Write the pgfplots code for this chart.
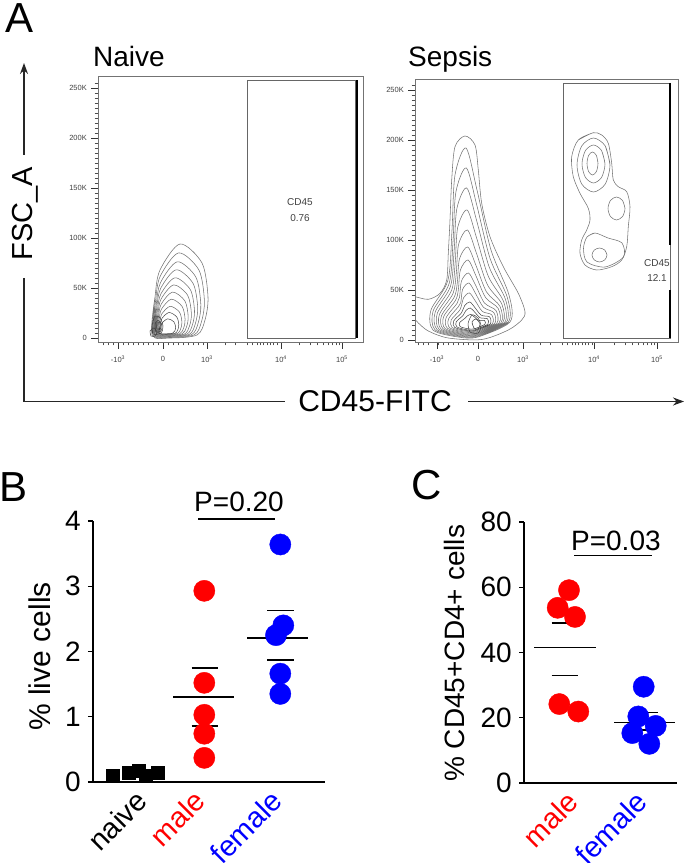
\documentclass[border=0pt]{standalone}
\usepackage{fontspec}
\setmainfont{Liberation Sans}
\usepackage{pgfplots}
\pgfplotsset{compat=1.18}
\usetikzlibrary{arrows.meta}
\pgfplotsset{
 cont/.style={smooth, no marks, draw=black!55, line width=0.55pt},
 contd/.style={smooth, no marks, draw=black!75, line width=0.5pt},
 flow/.style={scale only axis, anchor=south west, clip=true,
   axis line style={black!55, line width=0.9pt},
   tick align=outside, tick pos=left,
   major tick length=7pt, minor tick length=3.5pt,
   major tick style={black!80, line width=0.9pt},
   minor tick style={black!70, line width=0.45pt},
   ytick={0,50,100,150,200,250}, yticklabels={0,50K,100K,150K,200K,250K},
   minor ytick={5,10,...,255},
   minor xtick={-60,-55,-50,-40,-35,-30,-25,-20,-15,-10,-5,5,10,15,20,25,30,35,40,62,72,84,89,94,97,100,104,107,110,114,136.4,147.1,154.7,160.6,165.5,169.5,173.1,176.2},
   xticklabels={-10\textsuperscript{3},0,10\textsuperscript{3},10\textsuperscript{4},10\textsuperscript{5}},
   tick label style={font=\fontsize{7.5}{8}\selectfont, text=black!75, inner sep=0pt},
   yticklabel style={xshift=-4pt},
   xticklabel style={yshift=-7pt},
 },
 dotax/.style={scale only axis, anchor=south west, clip=false,
   axis x line*=bottom, axis y line*=left,
   axis line style={black, line width=1.3pt, -},
   xtick style={draw=none}, ytick style={black, line width=1.3pt},
   tick align=outside, major tick length=5pt,
   /pgf/number format/assume math mode=true,
   yticklabel style={font=\fontsize{28}{30}\selectfont, inner sep=0pt, xshift=-7pt},
   xticklabel style={font=\fontsize{29}{31}\selectfont, rotate=45, anchor=north east, inner sep=0pt, yshift=-2pt},
 },
}
\begin{document}
\begin{tikzpicture}
\path[use as bounding box] (0pt,0pt) rectangle (685pt,863pt);

% ---------- panel A frame ----------
\node[anchor=base west, inner sep=0pt, font=\fontsize{42}{44}\selectfont] at (5pt,830pt) {A};
\node[anchor=base west, inner sep=0pt, font=\fontsize{28}{30}\selectfont] at (93pt,796pt) {Naive};
\node[anchor=base west, inner sep=0pt, font=\fontsize{28}{30}\selectfont] at (408pt,796pt) {Sepsis};
\draw[line width=1.3pt, black!85] (24pt,585pt) -- (24pt,461.5pt) -- (285pt,461.5pt);
\draw[line width=1.3pt, black!85, -{Stealth[length=11pt,width=8pt]}] (24pt,708pt) -- (24pt,800pt);
\draw[line width=1.3pt, black!85, -{Stealth[length=11pt,width=8pt]}] (468pt,461.5pt) -- (684pt,461.5pt);
\node[rotate=90, anchor=base, inner sep=0pt, font=\fontsize{29}{31}\selectfont] at (32pt,649.5pt) {FSC\_A};
\node[anchor=base, inner sep=0pt, font=\fontsize{30}{32}\selectfont] at (375pt,451pt) {CD45-FITC};

% ---------- Naive ----------
\begin{axis}[flow, at={(98pt,521pt)}, width=265pt, height=266pt,
  xmin=-65, xmax=200, ymin=-4, ymax=262, xtick={-45,0,44,118,179}]
\addplot[cont] coordinates {(-11,3) (-8,41) (-3,68) (17,94) (39,75) (45,41) (42,18) (34,3) (7,0) (-11,3) (-8,41)};
\addplot[cont] coordinates {(-10.1,3.2) (-7.4,37.4) (-2.8,61.7) (15.6,85.1) (35.9,68) (41.4,37.4) (38.6,16.7) (31.3,3.2) (6.4,0.5) (-10.1,3.2) (-7.4,37.4)};
\addplot[cont] coordinates {(-9.2,3.4) (-6.7,33.8) (-2.5,55.4) (14.3,76.2) (32.8,61) (37.8,33.8) (35.3,15.4) (28.6,3.4) (5.9,1) (-9.2,3.4) (-6.7,33.8)};
\addplot[cont] coordinates {(-8.5,3.6) (-6.2,30.6) (-2.3,49.7) (13.1,68.2) (30,54.7) (34.7,30.6) (32.3,14.2) (26.2,3.6) (5.4,1.5) (-8.5,3.6) (-6.2,30.6)};
\addplot[cont] coordinates {(-7.7,3.8) (-5.6,27.3) (-2.1,44.1) (11.9,60.2) (27.3,48.4) (31.5,27.3) (29.4,13.1) (23.8,3.8) (4.9,1.9) (-7.7,3.8) (-5.6,27.3)};
\addplot[cont] coordinates {(-6.9,3.9) (-5,24.4) (-1.9,39) (10.7,53.1) (24.6,42.8) (28.4,24.4) (26.5,12) (21.4,3.9) (4.4,2.3) (-6.9,3.9) (-5,24.4)};
\addplot[cont] coordinates {(-6.2,4.1) (-4.5,21.6) (-1.7,34) (9.5,45.9) (21.8,37.2) (25.2,21.6) (23.5,11) (19,4.1) (3.9,2.7) (-6.2,4.1) (-4.5,21.6)};
\addplot[cont] coordinates {(-5.4,4.2) (-3.9,18.7) (-1.5,28.9) (8.3,38.8) (19.1,31.6) (22.1,18.7) (20.6,9.9) (16.7,4.2) (3.4,3.1) (-5.4,4.2) (-3.9,18.7)};
\addplot[cont] coordinates {(-4.6,4.4) (-3.4,15.8) (-1.3,23.9) (7.1,31.7) (16.4,26) (18.9,15.8) (17.6,8.9) (14.3,4.4) (2.9,3.5) (-4.6,4.4) (-3.4,15.8)};
\addplot[contd] coordinates {(-3.9,4.5) (-2.8,13.3) (-1.1,19.5) (6,25.5) (13.7,21.1) (15.8,13.3) (14.7,8) (11.9,4.5) (2.5,3.9) (-3.9,4.5) (-2.8,13.3)};
\addplot[contd] coordinates {(-3.1,4.7) (-2.2,10.8) (-0.8,15.1) (4.8,19.2) (10.9,16.2) (12.6,10.8) (11.8,7.1) (9.5,4.7) (2,4.2) (-3.1,4.7) (-2.2,10.8)};
\addplot[contd] coordinates {(-10,4) (-11,12) (-8,22) (-3,20) (0,12) (-2,5) (-10,4) (-11,12)};
\addplot[contd] coordinates {(-7,6) (-8,14) (-5,18) (-1,13) (-2,7) (-7,6) (-8,14)};
\addplot[contd] coordinates {(-12,2) (-13,7) (-9,10) (-6,6) (-8,2) (-12,2) (-13,7)};
\addplot[contd] coordinates {(-6,9) (-7,16) (-3,15) (-3,10) (-6,9) (-7,16)};
% gate
\addplot[black!60, line width=0.8pt, sharp plot, no marks] coordinates {(84,0) (192,0) (192,258) (84,258) (84,0)};
\addplot[black, line width=1.3pt, no marks] coordinates {(194,0) (194,258)};
\node[font=\fontsize{10}{11}\selectfont, text=black!75] at (axis cs:137,136) {CD45};
\node[font=\fontsize{10}{11}\selectfont, text=black!75] at (axis cs:137,120) {0.76};
\end{axis}

% ---------- Sepsis ----------
\begin{axis}[flow, at={(415pt,521pt)}, width=263pt, height=263pt,
  xmin=-63, xmax=200, ymin=-2, ymax=261, xtick={-41,0,45,116,179}]
\addplot[cont] coordinates {(-75,21) (-63,20) (-59.7,17) (-49.7,9) (-29.7,2) (3.7,0.5) (30.3,10) (43.7,20) (47,28.3) (40.3,46.7) (25.3,73.3) (12,103.3) (3.7,136.7) (0.3,170) (-3,195) (-13,204) (-23,193.3) (-26.3,160) (-28,120) (-29.7,86.7) (-31.3,60) (-38,46.7) (-49.7,40.7) (-63,43.3) (-75,45)};
\addplot[cont] coordinates {(0,3) (32,18) (31,45) (13,90) (-1,150) (-12,192) (-23,165) (-26,110) (-30,60) (-47,30) (-45,10) (-20,3) (0,3) (32,18)};
\addplot[cont] coordinates {(-0.25,3.6) (30.2,17.8) (29.2,42.9) (12.1,81.5) (-1.2,134.7) (-11.65,172) (-22.1,148) (-24.95,99.3) (-28.75,56.85) (-44.9,29) (-43,10.25) (-19.25,3.6) (-0.25,3.6) (30.2,17.8)};
\addplot[cont] coordinates {(-0.5,4.2) (28.3,17.6) (27.4,40.8) (11.2,73) (-1.4,119.5) (-11.3,152) (-21.2,131.1) (-23.9,88.5) (-27.5,53.7) (-42.8,27.9) (-41,10.5) (-18.5,4.2) (-0.5,4.2) (28.3,17.6)};
\addplot[cont] coordinates {(-0.75,4.8) (26.5,17.3) (25.6,38.4) (10.3,63.75) (-1.6,102.75) (-10.95,130) (-20.3,112.5) (-22.85,76.75) (-26.25,50.1) (-40.7,26.7) (-39,10.75) (-17.75,4.8) (-0.75,4.8) (26.5,17.3)};
\addplot[cont] coordinates {(-1,5.4) (24.6,17.1) (23.8,36) (9.4,55.3) (-1.8,87.5) (-10.6,110) (-19.4,95.6) (-21.8,66) (-25,46.5) (-38.6,25.5) (-37,11) (-17,5.4) (-1,5.4) (24.6,17.1)};
\addplot[cont] coordinates {(-1.25,6) (22.8,16.9) (22,33.6) (8.5,48.1) (-2,74.5) (-10.25,93) (-18.5,81.2) (-20.75,56.9) (-23.75,42.9) (-36.5,24.3) (-35,11.25) (-16.25,6) (-1.25,6) (22.8,16.9)};
\addplot[cont] coordinates {(-1.5,6.6) (20.9,16.7) (20.2,31.5) (7.6,42.5) (-2.2,64.5) (-9.9,80) (-17.6,70) (-19.7,49.9) (-22.5,39.75) (-34.4,23.25) (-33,11.5) (-15.5,6.6) (-1.5,6.6) (20.9,16.7)};
\addplot[cont] coordinates {(-1.8,7.3) (18.7,16.4) (18,29.4) (6.5,37) (-2.4,54.7) (-9.5,67) (-16.5,59.1) (-18.44,42.9) (-21,36.6) (-31.9,22.2) (-30.6,11.8) (-14.6,7.3) (-1.8,7.3) (18.7,16.4)};
\addplot[cont] coordinates {(-2.1,8) (16.5,16.2) (15.9,27.3) (5.4,32.8) (-2.7,47) (-9.1,57) (-15.4,50.6) (-17.18,37.5) (-19.5,33.45) (-29.4,21.15) (-28.2,12.1) (-13.7,8) (-2.1,8) (16.5,16.2)};
\addplot[cont] coordinates {(-2.4,8.8) (14.2,16) (13.7,25.2) (4.4,28.6) (-2.9,39.4) (-8.6,47) (-14.4,42.2) (-18,30.3) (-26.8,20.1) (-25.8,12.4) (-12.8,8.8) (-2.4,8.8) (14.2,16)};
\addplot[contd] coordinates {(-2.7,9.5) (12,15.8) (11.6,23.1) (3.3,24.75) (-3.2,32.55) (-8.2,38) (-13.3,34.5) (-16.5,27.15) (-24.3,19.05) (-23.4,12.7) (-11.9,9.5) (-2.7,9.5) (12,15.8)};
\addplot[contd] coordinates {(-3,10.2) (9.8,15.6) (9.4,21.3) (2.2,22.2) (-3.4,28) (-7.8,32) (-12.2,29.4) (-15,24.45) (-21.8,18.15) (-21,13) (-11,10.2) (-3,10.2) (9.8,15.6)};
\addplot[contd] coordinates {(-3.4,11.2) (6.8,15.5) (6.5,19.5) (0.8,19.5) (-3.7,23.1) (-7.2,25.6) (-10.8,24) (-13,21.75) (-18.4,17.25) (-17.8,13.4) (-9.8,11.2) (-3.4,11.2) (6.8,15.5)};
\addplot[contd] coordinates {(-8,8) (-10,16) (-6,25) (0,22) (3,14) (0,7) (-8,8) (-10,16)};
\addplot[contd] coordinates {(-4,12) (-6,18) (-2,21) (2,16) (0,11) (-4,12) (-6,18)};
% CD45+ population
\addplot[cont] coordinates {(115.3,207.3) (100.3,200) (93.7,183.3) (95.3,163.3) (102,146.7) (110.3,131.7) (112,120) (108.7,110) (103.7,100) (102,86.7) (107,75) (118.7,70) (133.7,73.3) (143.7,80) (148.7,93.3) (150.3,113.3) (152,133.3) (148.7,148.3) (140.3,153.3) (135.3,160) (133.7,176.7) (130.3,196.7) (123.7,205) (115.3,207.3) (100.3,200)};
\addplot[cont] coordinates {(132,175) (127.2,194.1) (115.5,202) (103.8,194.1) (99,175) (103.8,155.9) (115.5,148) (127.2,155.9) (132,175) (127.2,194.1)};
\addplot[cont] coordinates {(127,176) (123.6,189.4) (115.5,195) (107.4,189.4) (104,176) (107.4,162.6) (115.5,157) (123.6,162.6) (127,176) (123.6,189.4)};
\addplot[cont] coordinates {(120,176.5) (118.4,184.6) (114.5,188) (110.6,184.6) (109,176.5) (110.6,168.4) (114.5,165) (118.4,168.4) (120,176.5) (118.4,184.6)};
\addplot[cont] coordinates {(147,131.5) (144.5,139.6) (138.5,143) (132.5,139.6) (130,131.5) (132.5,123.4) (138.5,120) (144.5,123.4) (147,131.5) (144.5,139.6)};
\addplot[cont] coordinates {(109,103) (117,107) (130,102) (144,97) (145.5,83) (127,73) (109,78) (105.5,91.7) (109,103) (117,107)};
\addplot[cont] coordinates {(129,85) (126.8,89.9) (121.5,92) (116.2,89.9) (114,85) (116.2,80.1) (121.5,78) (126.8,80.1) (129,85) (126.8,89.9)};
% gate
\addplot[black!60, line width=0.8pt, sharp plot, no marks] coordinates {(85,2) (192,2) (192,257) (85,257) (85,2)};
\addplot[black, line width=1.3pt, no marks] coordinates {(192,257) (192,95)};
\addplot[black, line width=1.3pt, no marks] coordinates {(192,50) (192,2)};
\node[font=\fontsize{10}{11}\selectfont, text=black!75] at (axis cs:179,77) {CD45};
\node[font=\fontsize{10}{11}\selectfont, text=black!75] at (axis cs:179,62) {12.1};
\end{axis}

% ---------- Panel B ----------
\node[anchor=base west, inner sep=0pt, font=\fontsize{42}{44}\selectfont] at (-1pt,361pt) {B};
\begin{axis}[dotax, at={(93pt,81pt)}, width=232pt, height=261pt,
  xmin=0, xmax=232, ymin=0, ymax=4, ytick={0,1,2,3,4},
  xtick={40,98,175}, xticklabels={naive,\textcolor{red}{male},\textcolor{blue}{female}},
  ylabel={\% live cells},
  ylabel style={at={(axis description cs:-0.185,0.481)}, anchor=base, font=\fontsize{30}{32}\selectfont}]
\addplot[only marks, mark=square*, mark size=6.5pt, mark options={fill=black, draw=black}] coordinates {(19.3,0.10) (35.3,0.14) (45.3,0.17) (52.7,0.09) (64.3,0.14)};
\addplot[only marks, mark=*, mark size=10.6pt, mark options={fill=red, draw=red}] coordinates {(111.3,2.93) (111.3,1.52) (111.3,1.03) (111.3,0.74) (111.3,0.37)};
\addplot[only marks, mark=*, mark size=10.6pt, mark options={fill=blue, draw=blue}] coordinates {(187.3,3.64) (190.3,2.40) (183,2.25) (187.3,1.66) (187.3,1.35)};
\addplot[black, line width=1.5pt, no marks] coordinates {(80.3,1.30) (141.3,1.30)};
\addplot[black, line width=1.5pt, no marks] coordinates {(98.7,1.75) (124.7,1.75)};
\addplot[black, line width=1.5pt, no marks] coordinates {(98.7,0.86) (124.7,0.86)};
\addplot[black, line width=1.5pt, no marks] coordinates {(154.3,2.21) (214.7,2.21)};
\addplot[black, line width=1.5pt, no marks] coordinates {(174.3,2.63) (201,2.63)};
\addplot[black, line width=1.5pt, no marks] coordinates {(174.3,1.87) (201,1.87)};
\addplot[black, line width=1.5pt, no marks] coordinates {(105,4.03) (182,4.03)};
\node[anchor=base, inner sep=0pt, font=\fontsize{28}{30}\selectfont] at (axis cs:146,4.14) {P=0.20};
\end{axis}

% ---------- Panel C ----------
\node[anchor=base west, inner sep=0pt, font=\fontsize{42}{44}\selectfont] at (411pt,363pt) {C};
\begin{axis}[dotax, at={(524pt,80pt)}, width=153pt, height=261pt,
  xmin=0, xmax=153, ymin=0, ymax=80, ytick={0,20,40,60,80},
  xtick={40,109}, xticklabels={\textcolor{red}{male},\textcolor{blue}{female}},
  ylabel={\% CD45+CD4+ cells},
  ylabel style={at={(axis description cs:-0.386,0.497)}, anchor=base, font=\fontsize{28}{30}\selectfont}]
\addplot[only marks, mark=*, mark size=10.6pt, mark options={fill=red, draw=red}] coordinates {(45,59.1) (33.7,53.7) (51,50.9) (35.3,24.2) (54.3,21.9)};
\addplot[only marks, mark=*, mark size=10.6pt, mark options={fill=blue, draw=blue}] coordinates {(119.7,29.5) (114.3,20.4) (131.7,17.5) (108.3,15.3) (125.3,12.0)};
\addplot[black, line width=1.5pt, no marks] coordinates {(10.3,41.5) (71.7,41.5)};
\addplot[black, line width=1.5pt, no marks] coordinates {(27.7,49.1) (53.7,49.1)};
\addplot[black, line width=1.5pt, no marks] coordinates {(27.7,32.9) (53.7,32.9)};
\addplot[black, line width=1.5pt, no marks] coordinates {(90.3,18.5) (151,18.5)};
\addplot[black, line width=1.5pt, no marks] coordinates {(107.7,21.6) (133.7,21.6)};
\addplot[black, line width=1.5pt, no marks] coordinates {(107.7,16.3) (133.7,16.3)};
\addplot[black, line width=1.5pt, no marks] coordinates {(50.3,69.8) (127.7,69.8)};
\node[anchor=base, inner sep=0pt, font=\fontsize{28}{30}\selectfont] at (axis cs:91.9,71.3) {P=0.03};
\end{axis}
\end{tikzpicture}
\end{document}
